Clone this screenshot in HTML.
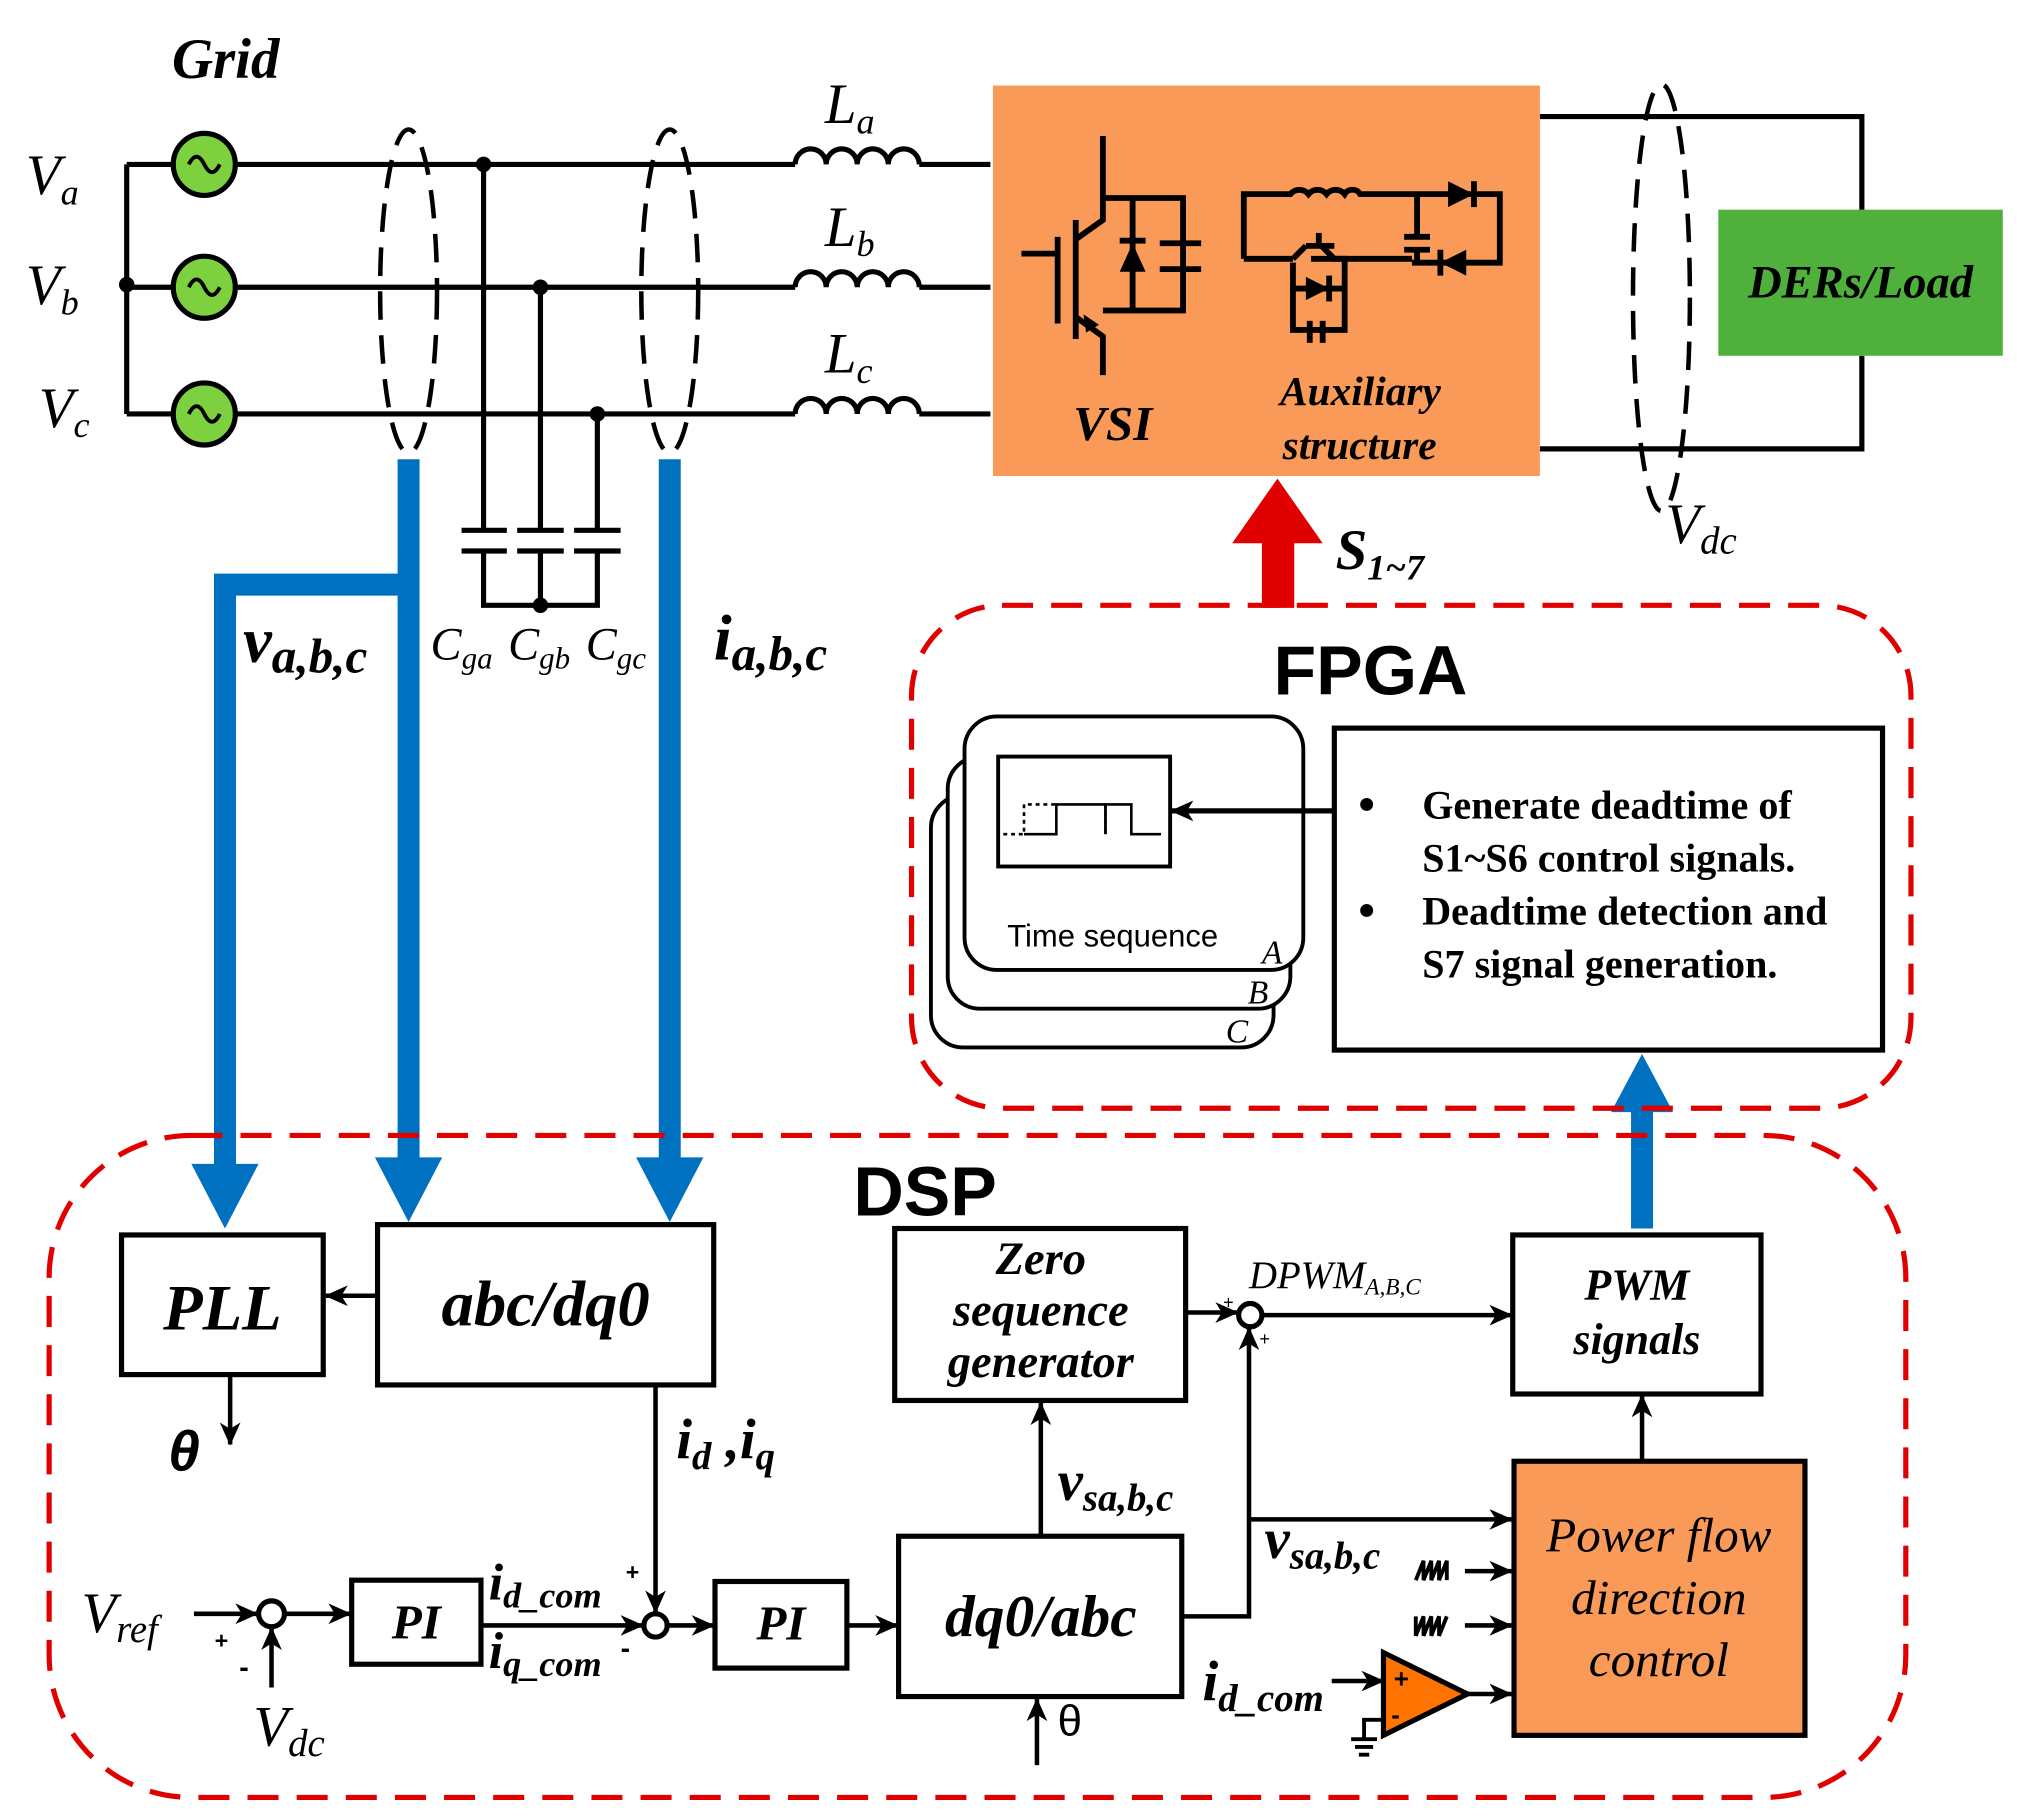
<!DOCTYPE html>
<html><head><meta charset="utf-8"><style>html,body{margin:0;padding:0;background:#fff}svg{display:block}
.s{font-family:"Liberation Serif",serif;font-style:italic}
.b{font-weight:bold}
.a{font-family:"Liberation Sans",sans-serif;font-weight:bold}
</style></head><body>
<svg width="2017" height="1817" viewBox="0 0 1560 1405" xmlns="http://www.w3.org/2000/svg">
<defs>
<marker id="ar" markerWidth="18" markerHeight="16" refX="17" refY="8" orient="auto" markerUnits="userSpaceOnUse" viewBox="0 0 18 16"><path d="M0,0 L18,8 L0,16 L5,8z" fill="#000"/></marker>
</defs>
<g stroke="#000" stroke-width="4" fill="none">
<line x1="98" y1="127" x2="98" y2="320"/>
<line x1="98" y1="127" x2="134" y2="127"/><line x1="98" y1="222" x2="134" y2="222"/><line x1="98" y1="320" x2="134" y2="320"/>
<line x1="183" y1="127" x2="615" y2="127"/><line x1="183" y1="222" x2="615" y2="222"/><line x1="183" y1="320" x2="615" y2="320"/>
<line x1="711" y1="127" x2="766" y2="127"/><line x1="711" y1="222" x2="766" y2="222"/><line x1="711" y1="320" x2="766" y2="320"/>
<path d="M615,127 a12,12 0 0 1 24,0 a12,12 0 0 1 24,0 a12,12 0 0 1 24,0 a12,12 0 0 1 24,0"/>
<path d="M615,222 a12,12 0 0 1 24,0 a12,12 0 0 1 24,0 a12,12 0 0 1 24,0 a12,12 0 0 1 24,0"/>
<path d="M615,320 a12,12 0 0 1 24,0 a12,12 0 0 1 24,0 a12,12 0 0 1 24,0 a12,12 0 0 1 24,0"/>
<line x1="374" y1="127" x2="374" y2="410"/><line x1="418" y1="222" x2="418" y2="410"/><line x1="462" y1="320" x2="462" y2="410"/>
<line x1="357" y1="410" x2="392" y2="410"/><line x1="357" y1="426" x2="392" y2="426"/>
<line x1="400" y1="410" x2="436" y2="410"/><line x1="400" y1="426" x2="436" y2="426"/>
<line x1="444" y1="410" x2="480" y2="410"/><line x1="444" y1="426" x2="480" y2="426"/>
<path d="M374,426 V468 H462 V426 M418,426 V468"/>
<g stroke-dasharray="22,12" stroke-width="3.5">
<ellipse cx="316" cy="225" rx="22" ry="125"/>
<ellipse cx="518" cy="225" rx="22" ry="125"/>
<ellipse cx="1285" cy="230" rx="22" ry="165"/>
</g>
<path d="M1191,90 H1440 V163"/><path d="M1191,347 H1440 V275"/>
</g>
<g fill="#7ed13e" stroke="#000" stroke-width="4">
<circle cx="158" cy="127" r="24"/><circle cx="158" cy="222" r="24"/><circle cx="158" cy="320" r="24"/>
</g>
<g fill="none" stroke="#000" stroke-width="3">
<path d="M146,127 q6,-12 12,0 t12,0"/><path d="M146,222 q6,-12 12,0 t12,0"/><path d="M146,320 q6,-12 12,0 t12,0"/>
</g>
<g fill="#000"><circle cx="98" cy="220" r="6"/><circle cx="374" cy="127" r="6"/><circle cx="418" cy="222" r="6"/><circle cx="462" cy="320" r="6"/><circle cx="418" cy="468" r="6"/></g>
<text x="133" y="60" class="s b" font-size="44">Grid</text>
<text x="20" y="150" class="s" font-size="44">V<tspan font-size="28" dy="8">a</tspan></text>
<text x="20" y="235" class="s" font-size="44">V<tspan font-size="28" dy="8">b</tspan></text>
<text x="30" y="330" class="s" font-size="44">V<tspan font-size="28" dy="8">c</tspan></text>
<text x="638" y="95" class="s" font-size="44">L<tspan font-size="28" dy="8">a</tspan></text>
<text x="638" y="190" class="s" font-size="44">L<tspan font-size="28" dy="8">b</tspan></text>
<text x="638" y="288" class="s" font-size="44">L<tspan font-size="28" dy="8">c</tspan></text>
<text x="333" y="510" class="s" font-size="36">C<tspan font-size="24" dy="7">ga</tspan></text>
<text x="393" y="510" class="s" font-size="36">C<tspan font-size="24" dy="7">gb</tspan></text>
<text x="453" y="510" class="s" font-size="36">C<tspan font-size="24" dy="7">gc</tspan></text>
<g stroke="#0070c0" stroke-width="17" fill="none" stroke-linejoin="miter">
<path d="M316,355 V905"/><path d="M316,452 H174 V905"/><path d="M518,355 V905"/>
<path d="M1270,950 V855"/>
</g>
<g fill="#0070c0">
<path d="M148,900 L200,900 L174,950z"/><path d="M290,895 L342,895 L316,945z"/><path d="M492,895 L544,895 L518,945z"/>
<path d="M1246,860 L1294,860 L1270,815z"/>
</g>
<text x="188" y="512" class="s b" font-size="50">v<tspan font-size="38" dy="8">a,b,c</tspan></text>
<text x="552" y="510" class="s b" font-size="50">i<tspan font-size="38" dy="8">a,b,c</tspan></text>
<rect x="768" y="66" width="423" height="302" fill="#f99a58"/>
<g stroke="#000" stroke-width="4.5" fill="none">
<path d="M853,105 V170 L832,185"/><path d="M832,245 L853,260 V290"/>
<line x1="832" y1="170" x2="832" y2="262"/><line x1="818" y1="183" x2="818" y2="250"/><line x1="790" y1="196" x2="818" y2="196"/>
<path d="M853,153 H915 V240 H853"/><line x1="876" y1="153" x2="876" y2="240"/>
<line x1="866" y1="186" x2="886" y2="186"/>
<line x1="897" y1="188" x2="929" y2="188"/><line x1="897" y1="208" x2="929" y2="208"/>
<path d="M962,200 V150 H998 a9,9 0 0 1 14,0 a9,9 0 0 1 14,0 a9,9 0 0 1 14,0 a7,7 0 0 1 12,0 H1160 V203 H1092 M962,200 H1000 M1014,200 H1092"/>
<line x1="1096" y1="150" x2="1096" y2="183"/><line x1="1096" y1="193" x2="1096" y2="203"/>
<line x1="1086" y1="183" x2="1106" y2="183"/><line x1="1086" y1="193" x2="1106" y2="193"/>
<line x1="1140" y1="140" x2="1140" y2="160"/><line x1="1114" y1="193" x2="1114" y2="213"/>
<path d="M1000,200 L1010,190 M1022,190 L1032,200 H1040 V255 H1000 V203"/>
<line x1="1010" y1="190" x2="1032" y2="190"/><line x1="1020" y1="180" x2="1020" y2="190"/>
<line x1="1000" y1="223" x2="1040" y2="223"/><line x1="1028" y1="213" x2="1028" y2="233"/>
<line x1="1013" y1="248" x2="1013" y2="265"/><line x1="1023" y1="248" x2="1023" y2="265"/>
</g>
<g fill="#000"><path d="M876,188 L866,210 L886,210z"/><path d="M1120,140 L1140,150 L1120,160z"/><path d="M1134,193 L1114,203 L1134,213z"/><path d="M1010,214 L1028,223 L1010,232z"/><path d="M838,243 l12,8 -10,6z"/></g>
<text x="830" y="340" class="s b" font-size="38">VSI</text>
<text x="990" y="313" class="s b" font-size="32">Auxiliary</text>
<text x="992" y="355" class="s b" font-size="32">structure</text>
<rect x="1329" y="162" width="220" height="113" fill="#4fb13c"/>
<text x="1439" y="230" class="s b" font-size="36" text-anchor="middle">DERs/Load</text>
<text x="1288" y="420" class="s" font-size="44">V<tspan font-size="30" dy="8">dc</tspan></text>
<rect x="976" y="415" width="25" height="55" fill="#e00000"/>
<path d="M953,420 L1023,420 L988,370z" fill="#e00000"/>
<text x="1033" y="440" class="s b" font-size="44">S<tspan font-size="28" dy="8">1~7</tspan></text>
<rect x="705" y="468" width="773" height="389" rx="70" fill="none" stroke="#e00000" stroke-width="4" stroke-dasharray="24,14"/>
<text x="985" y="537" class="a" font-size="54">FPGA</text>
<g stroke="#000" stroke-width="3" fill="#fff">
<rect x="720" y="615" width="265" height="195" rx="25"/>
<rect x="733" y="585" width="265" height="195" rx="25"/>
<rect x="746" y="554" width="262" height="196" rx="25"/>
<rect x="772" y="585" width="133" height="85"/>
</g>
<g stroke="#000" stroke-width="2" fill="none">
<path d="M792,645 H817 V622 H855 V645"/><path d="M855,645 V622 H875 V645 H898"/>
<path d="M776,645 H792 V622 H817" stroke-dasharray="3,3"/><path d="M855,622 V645" stroke-dasharray="3,3"/>
</g>
<text x="779" y="732" font-family="Liberation Sans,sans-serif" font-size="24">Time sequence</text>
<text x="976" y="745" class="s" font-size="26">A</text>
<text x="965" y="776" class="s" font-size="26">B</text>
<text x="948" y="806" class="s" font-size="26">C</text>
<rect x="1032" y="563" width="424" height="249" fill="#fff" stroke="#000" stroke-width="4"/>
<line x1="1032" y1="627" x2="906" y2="627" stroke="#000" stroke-width="4" marker-end="url(#ar)"/>
<g font-family="Liberation Serif,serif" font-weight="bold" font-size="31">
<circle cx="1057" cy="622" r="5"/><circle cx="1057" cy="704" r="5"/>
<text x="1100" y="633">Generate deadtime of</text>
<text x="1100" y="674">S1~S6 control signals.</text>
<text x="1100" y="715">Deadtime detection and</text>
<text x="1100" y="756">S7 signal generation.</text>
</g>
<rect x="38" y="878" width="1436" height="512" rx="110" fill="none" stroke="#e00000" stroke-width="4" stroke-dasharray="24,14"/>
<text x="660" y="940" class="a" font-size="54">DSP</text>
<g stroke="#000" stroke-width="4" fill="none">
<rect x="94" y="955" width="156" height="108"/>
<rect x="292" y="947" width="260" height="124"/>
<rect x="272" y="1222" width="100" height="65"/>
<rect x="553" y="1223" width="102" height="67"/>
<rect x="695" y="1188" width="219" height="124"/>
<rect x="692" y="950" width="225" height="133"/>
<rect x="1170" y="955" width="192" height="123"/>
<circle cx="210" cy="1248" r="10"/><circle cx="507" cy="1257" r="9"/><circle cx="967" cy="1017" r="9"/>
</g>
<rect x="1171" y="1130" width="225" height="212" fill="#f99a58" stroke="#000" stroke-width="4"/>
<g stroke="#000" stroke-width="3.5" fill="none" marker-end="url(#ar)">
<line x1="292" y1="1002" x2="252" y2="1002"/>
<line x1="178" y1="1063" x2="178" y2="1117"/>
<line x1="507" y1="1071" x2="507" y2="1247"/>
<line x1="150" y1="1248" x2="199" y2="1248"/>
<line x1="210" y1="1305" x2="210" y2="1259"/>
<line x1="220" y1="1248" x2="271" y2="1248"/>
<line x1="372" y1="1257" x2="497" y2="1257"/>
<line x1="516" y1="1257" x2="552" y2="1257"/>
<line x1="655" y1="1257" x2="694" y2="1257"/>
<line x1="802" y1="1365" x2="802" y2="1314"/>
<line x1="805" y1="1188" x2="805" y2="1085"/>
<line x1="917" y1="1015" x2="957" y2="1015"/>
<path d="M914,1250 H966 V1027"/>
<line x1="966" y1="1175" x2="1169" y2="1175"/>
<line x1="976" y1="1017" x2="1169" y2="1017"/>
<line x1="1270" y1="1130" x2="1270" y2="1079"/>
<line x1="1133" y1="1215" x2="1169" y2="1215"/>
<line x1="1133" y1="1257" x2="1169" y2="1257"/>
<line x1="1135" y1="1310" x2="1169" y2="1310"/>
<line x1="1030" y1="1300" x2="1070" y2="1300"/>
</g>
<g stroke="#000" stroke-width="3" fill="none">
<path d="M1095,1222 l6,-15 v15 l6,-15 v15 l6,-15 v15 l6,-15 v15"/>
<path d="M1095,1250 v15 l6,-15 v15 l6,-15 v15 l6,-15 v15 l6,-15"/>
<path d="M1070,1330 H1055 V1345 M1045,1345 H1065 M1048,1351 H1062 M1051,1357 H1059"/>
</g>
<path d="M1070,1278 L1135,1310 L1070,1342z" fill="#ff7300" stroke="#000" stroke-width="4"/>
<text x="1078" y="1305" font-family="Liberation Sans,sans-serif" font-weight="bold" font-size="20">+</text>
<text x="1076" y="1333" font-family="Liberation Sans,sans-serif" font-weight="bold" font-size="20">-</text>
<text x="172" y="1028" class="s b" font-size="50" text-anchor="middle">PLL</text>
<text x="422" y="1025" class="s b" font-size="50" text-anchor="middle">abc/dq0</text>
<text x="322" y="1267" class="s b" font-size="38" text-anchor="middle">PI</text>
<text x="604" y="1268" class="s b" font-size="38" text-anchor="middle">PI</text>
<text x="805" y="1265" class="s b" font-size="46" text-anchor="middle">dq0/abc</text>
<text x="805" y="985" class="s b" font-size="36" text-anchor="middle">Zero</text>
<text x="805" y="1025" class="s b" font-size="36" text-anchor="middle">sequence</text>
<text x="805" y="1065" class="s b" font-size="36" text-anchor="middle">generator</text>
<text x="1266" y="1005" class="s b" font-size="34" text-anchor="middle">PWM</text>
<text x="1266" y="1047" class="s b" font-size="34" text-anchor="middle">signals</text>
<text x="1283" y="1200" class="s" font-size="38" text-anchor="middle">Power flow</text>
<text x="1283" y="1248" class="s" font-size="38" text-anchor="middle">direction</text>
<text x="1283" y="1296" class="s" font-size="38" text-anchor="middle">control</text>
<text x="130" y="1137" class="a" font-size="44" font-style="italic">θ</text>
<text x="523" y="1128" class="s b" font-size="44">i<tspan font-size="30" dy="8">d</tspan><tspan dy="-8"> ,i</tspan><tspan font-size="30" dy="8">q</tspan></text>
<text x="63" y="1262" class="s" font-size="44">V<tspan font-size="30" dy="8">ref</tspan></text>
<text x="166" y="1275" font-family="Liberation Sans,sans-serif" font-weight="bold" font-size="18">+</text>
<text x="185" y="1297" font-family="Liberation Sans,sans-serif" font-weight="bold" font-size="22">-</text>
<text x="196" y="1350" class="s" font-size="44">V<tspan font-size="30" dy="8">dc</tspan></text>
<text x="378" y="1237" class="s b" font-size="40">i<tspan font-size="28" dy="6">d_com</tspan></text>
<text x="378" y="1290" class="s b" font-size="40">i<tspan font-size="28" dy="6">q_com</tspan></text>
<text x="484" y="1222" font-family="Liberation Sans,sans-serif" font-weight="bold" font-size="18">+</text>
<text x="480" y="1282" font-family="Liberation Sans,sans-serif" font-weight="bold" font-size="22">-</text>
<text x="818" y="1342" font-family="Liberation Sans,sans-serif" font-size="34">θ</text>
<text x="818" y="1160" class="s b" font-size="44">v<tspan font-size="30" dy="8">sa,b,c</tspan></text>
<text x="978" y="1205" class="s b" font-size="44">v<tspan font-size="30" dy="8">sa,b,c</tspan></text>
<text x="966" y="996" class="s" font-size="30">DPWM<tspan font-size="18" dy="5">A,B,C</tspan></text>
<text x="946" y="1012" font-size="14" font-family="Liberation Sans,sans-serif">+</text>
<text x="974" y="1040" font-size="14" font-family="Liberation Sans,sans-serif">+</text>
<text x="930" y="1315" class="s b" font-size="44">i<tspan font-size="30" dy="8">d_com</tspan></text>
</svg>
</body></html>
